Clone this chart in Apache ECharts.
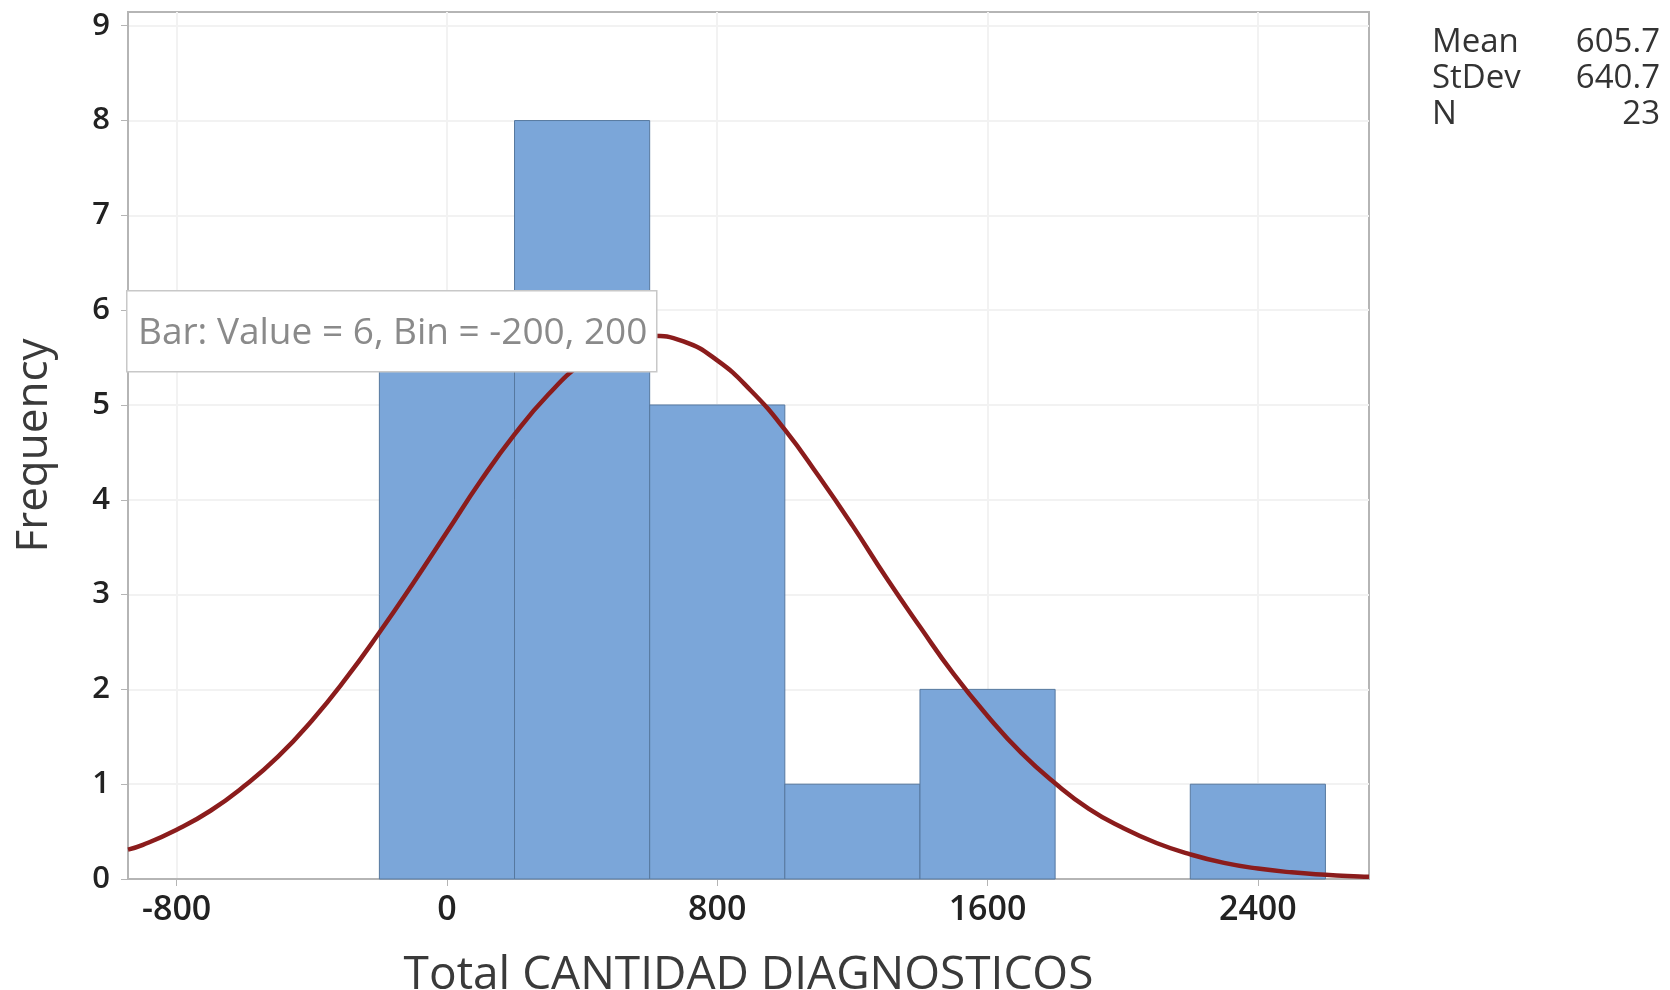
<!DOCTYPE html>
<html>
<head>
<meta charset="utf-8">
<script src="https://cdn.jsdelivr.net/npm/echarts@6/dist/echarts.min.js"></script>
<style>
html,body{margin:0;padding:0;background:#fff;}
#chart{width:1670px;height:990px;}
</style>
</head>
<body>
<div id="chart"></div>
<script>
// Histogram bins (start, end) and counts
const binStarts = [-200, 200, 600, 1000, 1400, 1800, 2200];
const binEnds   = [200, 600, 1000, 1400, 1800, 2200, 2600];
const counts    = [6, 8, 5, 1, 2, 0, 1];

// Fitted normal curve points (x, frequency)
const curveX = [-944, -900, -800, -700, -600, -500, -400, -300, -200, -100, 0, 100, 200, 300, 400, 500, 600, 700, 800, 900, 1000, 1100, 1200, 1300, 1400, 1500, 1600, 1700, 1800, 1900, 2000, 2100, 2200, 2300, 2400, 2500, 2600, 2700, 2729];
const curveY = [0.31, 0.36, 0.52, 0.72, 0.98, 1.29, 1.67, 2.11, 2.60, 3.12, 3.66, 4.20, 4.69, 5.11, 5.44, 5.65, 5.73, 5.67, 5.47, 5.15, 4.74, 4.25, 3.73, 3.18, 2.66, 2.16, 1.72, 1.33, 1.01, 0.74, 0.54, 0.38, 0.26, 0.17, 0.11, 0.07, 0.045, 0.027, 0.023];

const xTicks = [-800, 0, 800, 1600, 2400];
const yTicks = [0, 1, 2, 3, 4, 5, 6, 7, 8, 9];

const statNames  = ['Mean', 'StDev', 'N'];
const statValues = ['605.7', '640.7', '23'];

const tooltipText = 'Bar: Value = 6, Bin = -200, 200';
const xTitle = 'Total CANTIDAD DIAGNOSTICOS';
const yTitle = 'Frequency';

const histData = binStarts.map((s, i) => [s, binEnds[i], counts[i]]);
const curveData = curveX.map((x, i) => [x, curveY[i]]);

const chart = echarts.init(document.getElementById('chart'));
const FONT = 'Open Sans';

const graphics = [];
statNames.forEach((n, i) => {
  graphics.push({type: 'text', left: 1432, top: 26 + i * 36, z: 10,
    style: {text: n, fontFamily: FONT, fontSize: 33, fill: '#333'}});
  graphics.push({type: 'text', right: 10, top: 26 + i * 36, z: 10,
    style: {text: statValues[i], fontFamily: FONT, fontSize: 33, fill: '#333', textAlign: 'right'}});
});
graphics.push({type: 'rect', left: 126, top: 290, z: 20,
  shape: {width: 530, height: 81},
  style: {fill: '#fff', stroke: '#c8c8c8', lineWidth: 1.5}});
graphics.push({type: 'text', left: 138, top: 315, z: 21,
  style: {text: tooltipText, fontFamily: FONT, fontSize: 37, fill: '#8a8a8a'}});

chart.setOption({
  animation: false,
  backgroundColor: '#fff',
  grid: {left: 128, right: 301, top: 12, bottom: 111, show: true, borderColor: '#b5b5b5', borderWidth: 2,
    backgroundColor: 'transparent', outerBoundsMode: 'none', containLabel: false},
  xAxis: {
    type: 'value', min: -944, max: 2729,
    name: xTitle, nameLocation: 'middle', nameGap: 74,
    nameTextStyle: {fontFamily: FONT, fontSize: 46, fontWeight: 500, color: '#3a3a3a'},
    axisLine: {show: true, onZero: false, lineStyle: {color: '#b5b5b5', width: 2}},
    axisTick: {show: true, length: 7, lineStyle: {color: '#b5b5b5'}, customValues: xTicks},
    axisLabel: {fontFamily: FONT, fontSize: 34, fontWeight: 600, color: '#222', margin: 14,
      customValues: xTicks, formatter: v => String(v)},
    splitLine: {show: false}
  },
  yAxis: {
    type: 'value', min: 0, max: 9.145,
    name: yTitle, nameLocation: 'middle', nameGap: 72,
    nameTextStyle: {fontFamily: FONT, fontSize: 44, fontWeight: 500, color: '#3a3a3a'},
    axisLine: {show: true, onZero: false, lineStyle: {color: '#b5b5b5', width: 2}},
    axisTick: {show: true, length: 7, lineStyle: {color: '#b5b5b5'}, customValues: yTicks},
    axisLabel: {fontFamily: FONT, fontSize: 31, fontWeight: 600, color: '#222', margin: 18, customValues: yTicks},
    splitLine: {show: false}
  },
  graphic: graphics,
  series: [
    {
      type: 'line', silent: true, data: [], z: 0,
      markLine: {
        silent: true, symbol: 'none', label: {show: false}, z: 0,
        lineStyle: {color: '#f2f2f2', width: 2, type: 'solid'},
        data: xTicks.map(v => ({xAxis: v})).concat(yTicks.slice(1).map(v => ({yAxis: v})))
      }
    },
    {
      type: 'custom', z: 2,
      data: histData,
      renderItem: function (params, api) {
        const p0 = api.coord([api.value(0), api.value(2)]);
        const p1 = api.coord([api.value(1), 0]);
        if (api.value(2) <= 0) return null;
        return {
          type: 'rect',
          shape: {x: p0[0], y: p0[1], width: p1[0] - p0[0], height: p1[1] - p0[1]},
          style: {fill: '#7ba6d9', stroke: '#56789f', lineWidth: 1}
        };
      },
      encode: {x: [0, 1], y: 2}
    },
    {
      type: 'line', z: 3, smooth: true, showSymbol: false, clip: true,
      data: curveData,
      lineStyle: {color: '#8b1c1c', width: 4.5}
    }
  ]
});
</script>
</body>
</html>
